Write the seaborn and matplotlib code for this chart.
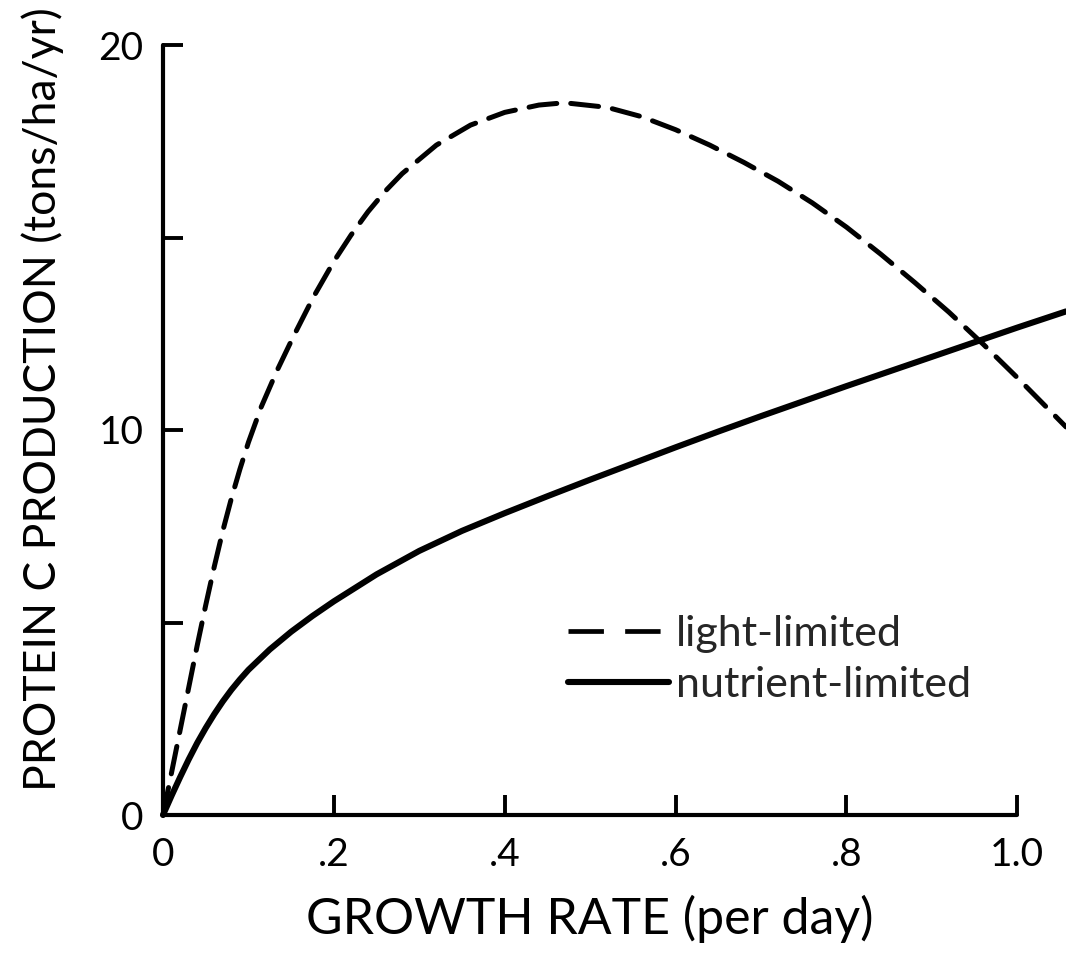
import matplotlib
matplotlib.use("Agg")
import matplotlib.pyplot as plt
from matplotlib.lines import Line2D
import seaborn as sns
import pandas as pd

# Light-limited production (dashed curve)
light_rate = [0.0, 0.01, 0.02, 0.03, 0.04, 0.05, 0.06, 0.07, 0.08, 0.09,
              0.10, 0.115, 0.133, 0.152, 0.176, 0.20, 0.22, 0.24, 0.26, 0.28,
              0.32, 0.36, 0.40, 0.44, 0.47, 0.52, 0.56, 0.60, 0.64, 0.68,
              0.72, 0.76, 0.80, 0.84, 0.88, 0.92, 0.96, 1.00, 1.057]
light_prod = [0.0, 1.1, 2.2, 3.3, 4.4, 5.45, 6.45, 7.38, 8.22, 8.98,
              9.68, 10.6, 11.52, 12.4, 13.45, 14.38, 15.06, 15.67, 16.2, 16.66,
              17.4, 17.92, 18.25, 18.44, 18.5, 18.38, 18.14, 17.8, 17.4, 16.95,
              16.46, 15.9, 15.27, 14.57, 13.83, 13.06, 12.23, 11.36, 10.08]

# Nutrient-limited production (solid curve)
nutr_rate = [0.0, 0.01, 0.02, 0.03, 0.04, 0.05, 0.06, 0.07, 0.08, 0.09,
             0.10, 0.125, 0.15, 0.175, 0.20, 0.25, 0.30, 0.35, 0.40, 0.45,
             0.50, 0.55, 0.60, 0.65, 0.70, 0.75, 0.80, 0.85, 0.90, 0.95,
             1.00, 1.057]
nutr_prod = [0.0, 0.5, 0.98, 1.44, 1.87, 2.26, 2.62, 2.95, 3.25, 3.52,
             3.77, 4.3, 4.76, 5.17, 5.55, 6.25, 6.86, 7.38, 7.84, 8.28,
             8.71, 9.13, 9.55, 9.96, 10.36, 10.75, 11.14, 11.52, 11.9, 12.28,
             12.66, 13.08]

x_ticks = [0.0, 0.2, 0.4, 0.6, 0.8, 1.0]
x_tick_labels = ["0", ".2", ".4", ".6", ".8", "1.0"]
y_ticks = [0, 5, 10, 15, 20]
y_tick_labels = ["0", "", "10", "", "20"]

series_labels = ["light-limited", "nutrient-limited"]

sns.set_theme(style="ticks")
plt.rcParams["font.family"] = ["Lato", "DejaVu Sans"]

W, H = 1066, 957
fig = plt.figure(figsize=(W / 100, H / 100), dpi=100)
ax = fig.add_axes([163 / W, 1 - 815 / H, (W - 163) / W, (815 - 45) / H])

light = pd.DataFrame({"rate": light_rate, "prod": light_prod})
nutr = pd.DataFrame({"rate": nutr_rate, "prod": nutr_prod})

sns.lineplot(data=light, x="rate", y="prod", ax=ax, color="black", lw=3.6,
             linestyle=(0, (5.6, 2.8)), dash_capstyle="round", sort=False,
             clip_on=False)
sns.lineplot(data=nutr, x="rate", y="prod", ax=ax, color="black", lw=4.4,
             solid_capstyle="round", sort=False, clip_on=False)

ax.set_xlim(0, 1.057)
ax.set_ylim(0, 20)
for side in ("top", "right"):
    ax.spines[side].set_visible(False)
ax.spines["bottom"].set_bounds(0, 1.0)
ax.spines["left"].set_bounds(0, 20)
for side in ("left", "bottom"):
    ax.spines[side].set_linewidth(3.0)
    ax.spines[side].set_color("black")
    ax.spines[side].set_capstyle("round")

ax.set_xticks(x_ticks)
ax.set_xticklabels(x_tick_labels)
ax.set_yticks(y_ticks)
ax.set_yticklabels(y_tick_labels)
ax.tick_params(direction="in", length=14.5, width=2.8, color="black",
               labelsize=28, labelcolor="black")
ax.tick_params(axis="x", pad=16)
ax.tick_params(axis="y", pad=14)

ax.set_xlabel("GROWTH RATE (per day)", fontsize=36, color="black")
ax.set_ylabel("PROTEIN C PRODUCTION (tons/ha/yr)", fontsize=32, color="black")
ax.xaxis.set_label_coords(0.473, -0.103)
ax.yaxis.set_label_coords(-0.11, 0.54)

handles = [
    Line2D([], [], color="black", lw=3.4, linestyle=(0, (7.5, 4.5))),
    Line2D([], [], color="black", lw=4.4),
]
leg = ax.legend(handles, series_labels, loc="upper left",
                bbox_to_anchor=(568 / W, 1 - 615 / H),
                bbox_transform=fig.transFigure, frameon=False,
                fontsize=31, handlelength=2.35, handletextpad=0.15,
                labelspacing=0.3, borderpad=0, borderaxespad=0)

fig.savefig("out.png", dpi=100, facecolor="white")
